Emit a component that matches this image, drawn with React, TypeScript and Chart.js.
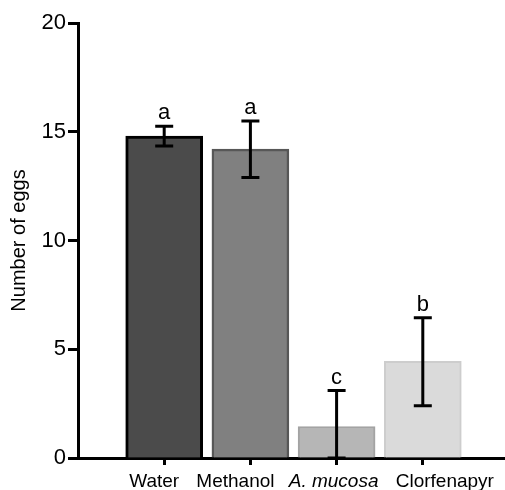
import React, { useEffect, useRef } from "react";
import { Chart, registerables } from "chart.js";

Chart.register(...registerables);

const categories = ["", "Water", "Methanol", "A. mucosa", "Clorfenapyr", ""];
const means = [null, 14.8, 14.2, 1.45, 4.45, null];
const errUp = [0, 0.45, 1.3, 1.65, 2.0, 0];
const errDown = [0, 0.45, 1.3, 1.65, 2.05, 0];
const letters = ["", "a", "a", "c", "b", ""];
const yTicks = [0, 5, 10, 15, 20];

const fillColors = ["#000", "#4b4b4b", "#808080", "#b6b6b6", "#dadada", "#000"];
const edgeColors = ["#000", "#000000", "#575757", "#a3a3a3", "#cdcdcd", "#000"];
const edgeWidths = [0, 3, 2.5, 2, 2, 0];
// horizontal nudge of each category label relative to its tick (style)
const labelShift = [0, -10, -15, -3, 22, 0];

const FONT = "'Liberation Sans', Arial, Helvetica, sans-serif";

const errorPlugin = {
  id: "errorBars",
  afterDatasetsDraw(chart: any) {
    const ctx = chart.ctx;
    const x = chart.scales.x;
    const y = chart.scales.y;
    ctx.save();
    ctx.strokeStyle = "#000";
    ctx.fillStyle = "#000";
    ctx.lineWidth = 3;
    ctx.font = `22px ${FONT}`;
    ctx.textAlign = "center";
    ctx.textBaseline = "alphabetic";
    means.forEach((m, i) => {
      if (m === null) return;
      const px = x.getPixelForValue(i);
      const top = y.getPixelForValue(m + errUp[i]);
      const bot = y.getPixelForValue(Math.max(0, m - errDown[i]));
      const cap = 9;
      ctx.beginPath();
      ctx.moveTo(px, top);
      ctx.lineTo(px, bot);
      ctx.moveTo(px - cap, top);
      ctx.lineTo(px + cap, top);
      ctx.moveTo(px - cap, bot);
      ctx.lineTo(px + cap, bot);
      ctx.stroke();
      ctx.fillText(letters[i], px, top - 7);
    });
    // category labels
    categories.forEach((c, i) => {
      if (!c) return;
      const px = x.getPixelForValue(i) + labelShift[i];
      ctx.font = `${c === "A. mucosa" ? "italic " : ""}19px ${FONT}`;
      ctx.fillText(c, px, x.top + 29);
    });
    ctx.restore();
  },
};

export default function App() {
  const ref = useRef<HTMLCanvasElement | null>(null);

  useEffect(() => {
    document.body.style.margin = "0";
    const canvas = ref.current;
    if (!canvas) return;
    const chart = new Chart(canvas, {
      type: "bar",
      data: {
        labels: categories,
        datasets: [
          {
            data: means as any,
            backgroundColor: fillColors,
            borderColor: edgeColors,
            borderWidth: edgeWidths,
            barThickness: 77,
          },
        ],
      },
      options: {
        responsive: false,
        animation: false,
        devicePixelRatio: 1,
        layout: { padding: { top: 23, left: 0, right: 0, bottom: 0 } },
        plugins: {
          legend: { display: false },
          tooltip: { enabled: false },
        },
        scales: {
          x: {
            type: "category",
            offset: false,
            afterFit: (s: any) => {
              s.height = 32;
            },
            grid: {
              display: true,
              drawOnChartArea: false,
              offset: false,
              tickLength: 7,
              tickWidth: 3,
              tickColor: (c: any) =>
                c.index === 0 || c.index === categories.length - 1 ? "rgba(0,0,0,0)" : "#000",
            },
            border: { display: true, color: "#000", width: 3 },
            ticks: {
              display: false,
              autoSkip: false,
            },
          },
          y: {
            min: 0,
            max: 20,
            afterFit: (s: any) => {
              s.width = 78;
            },
            afterBuildTicks: (s: any) => {
              s.ticks = yTicks.map((v) => ({ value: v }));
            },
            grid: {
              display: true,
              drawOnChartArea: false,
              tickLength: 10,
              tickWidth: 3,
              tickColor: "#000",
            },
            border: { display: true, color: "#000", width: 3 },
            ticks: {
              padding: 2,
              color: "#000",
              font: { family: FONT, size: 22 },
            },
            title: {
              display: true,
              text: "Number of eggs",
              color: "#000",
              font: { family: FONT, size: 20 },
              padding: { top: 7, bottom: 0 },
            },
          },
        },
      },
      plugins: [errorPlugin],
    });
    return () => chart.destroy();
  }, []);

  return (
    <div style={{ position: "fixed", left: 0, top: 0, width: 505, height: 490, overflow: "hidden", background: "#fff" }}>
      <canvas ref={ref} width={509} height={490} />
    </div>
  );
}
